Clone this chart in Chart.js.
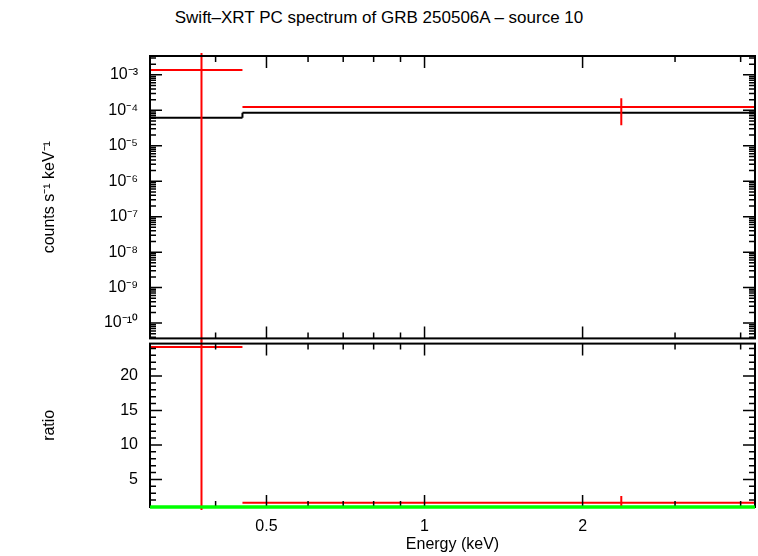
<!DOCTYPE html>
<html><head><meta charset="utf-8">
<script src="https://cdn.jsdelivr.net/npm/chart.js@4/dist/chart.umd.min.js"></script>
<style>
body{margin:0;background:#fff;width:758px;height:556px;overflow:hidden;position:relative;font-family:"Liberation Sans",sans-serif}
#t{position:absolute;top:8px;left:0;width:758px;text-align:center;font-size:17px}
canvas{position:absolute;left:0}
</style></head><body>
<div id="t">Swift–XRT PC spectrum of GRB 250506A – source 10</div>
<div style="position:absolute;left:0;top:0;width:758px;height:352px"><canvas id="c1"></canvas></div>
<div style="position:absolute;left:0;top:330px;width:758px;height:226px"><canvas id="c2"></canvas></div>
<script>
// energy bins (keV)
var binLo = [0.30, 0.45];
var binHi = [0.45, 4.26];
var binMid = [0.376, 2.37];
// counts s^-1 keV^-1
var rate = [1.38e-3, 1.24e-4];
var rateLo = [1e-12, 3.8e-5];
var rateHi = [1, 2.2e-4];
var model = [6.2e-5, 8.5e-5];
// ratio
var ratio = [24.2, 1.6];
var ratioLo = [0, 1.0];
var ratioHi = [30, 2.6];

var xMin = 0.3, xMax = 4.26;

function seg(x1, y1, x2, y2, col, w) {
  return {data: [{x: x1, y: y1}, {x: x2, y: y2}], showLine: true, borderColor: col,
    borderWidth: w || 2, pointRadius: 0, fill: false, clip: 3};
}

function ticksPlugin(xt, xminor, yt, yminor) {
  return {id: 'ticks', afterDatasetsDraw: function (c) {
    var ctx = c.ctx, a = c.chartArea, sx = c.scales.x, sy = c.scales.y;
    ctx.save(); ctx.strokeStyle = '#000'; ctx.lineWidth = 1.5;
    function tx(v, len) {
      var p = sx.getPixelForValue(v); if (p < a.left || p > a.right) return;
      ctx.beginPath(); ctx.moveTo(p, a.bottom); ctx.lineTo(p, a.bottom - len);
      ctx.moveTo(p, a.top); ctx.lineTo(p, a.top + len); ctx.stroke();
    }
    function ty(v, len) {
      var p = sy.getPixelForValue(v); if (p < a.top - 1 || p > a.bottom + 1) return;
      ctx.beginPath(); ctx.moveTo(a.left, p); ctx.lineTo(a.left + len, p);
      ctx.moveTo(a.right, p); ctx.lineTo(a.right - len, p); ctx.stroke();
    }
    xt.forEach(function (v) { tx(v, 12); }); xminor.forEach(function (v) { tx(v, 6); });
    yt.forEach(function (v) { ty(v, 12); }); yminor.forEach(function (v) { ty(v, 6); });
    ctx.lineWidth = 2; ctx.strokeRect(a.left, a.top, a.right - a.left, a.bottom - a.top);
    ctx.restore();
  }};
}

var xMajor = [0.5, 1, 2];
var xMinor = [0.3, 0.4, 0.6, 0.7, 0.8, 0.9, 3, 4];
var sup = {'-': '⁻', '0': '⁰', '1': '¹', '2': '²', '3': '³', '4': '⁴', '5': '⁵', '6': '⁶', '7': '⁷', '8': '⁸', '9': '⁹'};
var decades = [-3, -4, -5, -6, -7, -8, -9, -10];
var yMajor1 = decades.map(function (d) { return Math.pow(10, d); });
var yMinor1 = [];
for (var d = -11; d <= -3; d++) for (var m = 2; m <= 9; m++) yMinor1.push(m * Math.pow(10, d));

var ds1 = [];
for (var i = 0; i < binMid.length; i++) {
  ds1.push(seg(binLo[i], rate[i], binHi[i], rate[i], '#ff0000'));
  ds1.push(seg(binMid[i], rateLo[i], binMid[i], rateHi[i], '#ff0000'));
  ds1.push(seg(binLo[i], model[i], binHi[i], model[i], '#000000'));
  if (i > 0) ds1.push(seg(binLo[i], model[i - 1], binLo[i], model[i], '#000000'));
}

var fnt = {family: 'Liberation Sans', size: 16};
Chart.defaults.color = '#000';
Chart.defaults.animation = false;

new Chart(document.getElementById('c1'), {
  type: 'scatter', data: {datasets: ds1},
  options: {responsive: true, maintainAspectRatio: false,
    layout: {padding: {top: 56, right: 3, bottom: 0, left: 36}},
    plugins: {legend: {display: false}, tooltip: {enabled: false}},
    scales: {
      x: {type: 'logarithmic', min: xMin, max: xMax, display: false},
      y: {type: 'logarithmic', min: 3.7e-11, max: 3.4e-3,
        afterBuildTicks: function (s) { s.ticks = yMajor1.map(function (v) { return {value: v}; }); },
        afterFit: function (s) { s.width = 114; },
        grid: {display: false},
        border: {display: false},
        title: {display: true, text: 'counts s⁻¹ keV⁻¹', font: fnt},
        ticks: {font: fnt, padding: 4, callback: function (v) {
          var e = Math.round(Math.log10(v));
          return '10' + String(e).split('').map(function (ch) { return sup[ch]; }).join('');
        }}}
    }},
  plugins: [ticksPlugin(xMajor, xMinor, yMajor1, yMinor1)]
});

var ds2 = [];
for (var j = 0; j < binMid.length; j++) {
  ds2.push(seg(binLo[j], ratio[j], binHi[j], ratio[j], '#ff0000'));
  ds2.push(seg(binMid[j], ratioLo[j], binMid[j], ratioHi[j], '#ff0000'));
}
ds2.push(seg(xMin, 1, xMax, 1, '#00ff00', 3));
var yMajor2 = [5, 10, 15, 20];
var yMinor2 = [];
for (var k = 1; k <= 24; k++) if (k % 5) yMinor2.push(k);

new Chart(document.getElementById('c2'), {
  type: 'scatter', data: {datasets: ds2},
  options: {responsive: true, maintainAspectRatio: false,
    layout: {padding: {top: 0, right: 3, bottom: 2, left: 36}},
    plugins: {legend: {display: false}, tooltip: {enabled: false}},
    scales: {
      x: {type: 'logarithmic', min: xMin, max: xMax,
        afterBuildTicks: function (s) { s.ticks = xMajor.map(function (v) { return {value: v}; }); },
        afterFit: function (s) { s.height = 47; },
        grid: {display: false}, border: {display: false},
        title: {display: true, text: 'Energy (keV)', font: fnt, padding: 0},
        ticks: {font: fnt, padding: 2, maxRotation: 0, callback: function (v) { return String(v); }}},
      y: {min: 1.0, max: 24.7,
        afterBuildTicks: function (s) { s.ticks = yMajor2.map(function (v) { return {value: v}; }); },
        afterFit: function (s) { s.width = 114; },
        grid: {display: false}, border: {display: false},
        title: {display: true, text: 'ratio', font: fnt},
        ticks: {font: fnt, padding: 4}}
    }},
  plugins: [ticksPlugin(xMajor, xMinor, yMajor2, yMinor2), {id: 'green', afterDraw: function (c) {
    var ctx = c.ctx, a = c.chartArea, p = c.scales.y.getPixelForValue(1);
    ctx.save(); ctx.strokeStyle = '#00ff00'; ctx.lineWidth = 3;
    ctx.beginPath(); ctx.moveTo(a.left, p); ctx.lineTo(a.right, p); ctx.stroke(); ctx.restore();
  }}]
});
</script>
</body></html>
